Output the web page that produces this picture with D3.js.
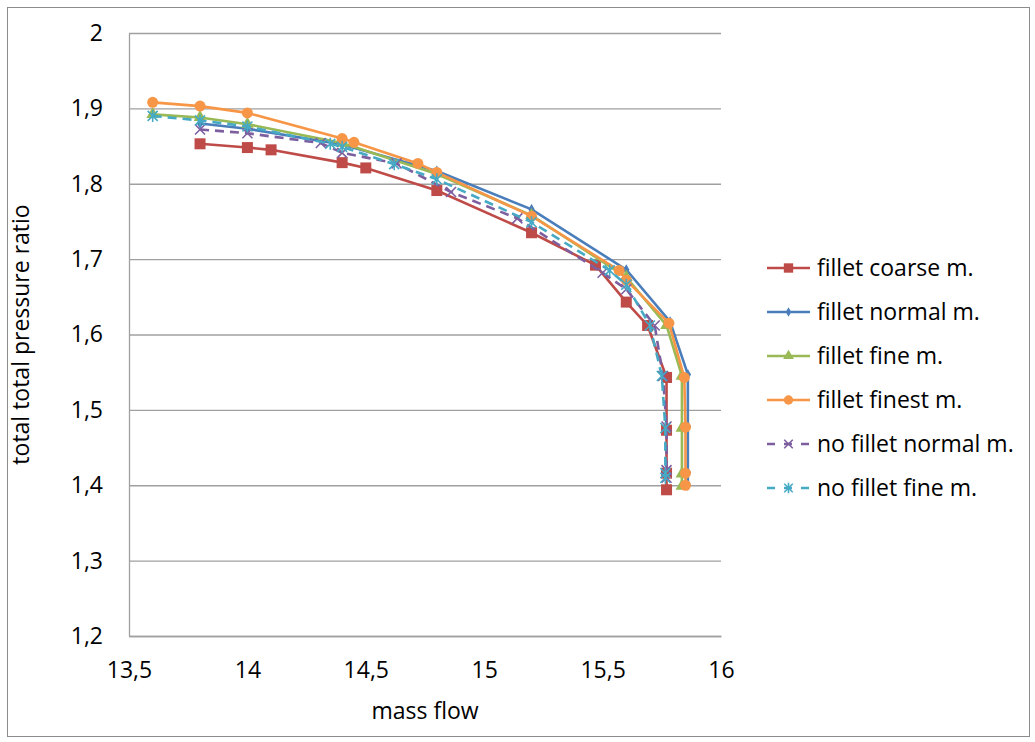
<!DOCTYPE html>
<html>
<head>
<meta charset="utf-8">
<script src="https://cdn.jsdelivr.net/npm/d3@7/dist/d3.min.js"></script>
<style>
  html, body { margin: 0; padding: 0; background: #fff; }
  svg { display: block; }
  text { font-family: "Open Sans", Lato, sans-serif; fill: #000; }
</style>
</head>
<body>
<svg id="chart" width="1035" height="742"></svg>
<script>
// Compressor map: total-to-total pressure ratio over mass flow, per mesh variant
const seriesNames = ["fillet coarse m.", "fillet normal m.", "fillet fine m.",
                     "fillet finest m.", "no fillet normal m.", "no fillet fine m."];

const coarseFlow  = [13.8, 14.0, 14.1, 14.4, 14.5, 14.8, 15.2, 15.47, 15.6, 15.69, 15.77, 15.77, 15.77, 15.77];
const coarsePR    = [1.853, 1.848, 1.845, 1.828, 1.821, 1.791, 1.735, 1.692, 1.643, 1.612, 1.543, 1.473, 1.416, 1.394];

const normalFlow  = [13.8, 14.0, 14.4, 14.8, 15.2, 15.6, 15.785, 15.86, 15.86, 15.86, 15.86];
const normalPR    = [1.880, 1.873, 1.852, 1.817, 1.766, 1.686, 1.617, 1.547, 1.478, 1.417, 1.400];

const fineFlow    = [13.6, 13.8, 14.0, 14.4, 14.8, 15.2, 15.6, 15.77, 15.835, 15.835, 15.835, 15.835];
const finePR      = [1.892, 1.888, 1.879, 1.854, 1.813, 1.758, 1.676, 1.612, 1.545, 1.476, 1.415, 1.399];

const finestFlow  = [13.6, 13.8, 14.0, 14.4, 14.45, 14.72, 14.8, 15.2, 15.57, 15.6, 15.78, 15.845, 15.85, 15.85, 15.85];
const finestPR    = [1.908, 1.903, 1.894, 1.860, 1.855, 1.827, 1.815, 1.757, 1.685, 1.672, 1.615, 1.543, 1.477, 1.416, 1.400];

const noFilNormalFlow = [13.8, 14.0, 14.31, 14.4, 14.63, 14.86, 15.14, 15.5, 15.6, 15.72, 15.755, 15.77, 15.77, 15.77];
const noFilNormalPR   = [1.872, 1.867, 1.854, 1.841, 1.827, 1.789, 1.754, 1.682, 1.660, 1.612, 1.545, 1.478, 1.420, 1.410];

const noFilFineFlow = [13.6, 13.8, 14.0, 14.35, 14.4, 14.62, 14.8, 15.2, 15.53, 15.6, 15.7, 15.75, 15.765, 15.765, 15.765];
const noFilFinePR   = [1.890, 1.884, 1.876, 1.853, 1.849, 1.826, 1.806, 1.749, 1.685, 1.666, 1.612, 1.545, 1.476, 1.416, 1.410];

const xTicks = [13.5, 14, 14.5, 15, 15.5, 16];
const yTicks = [1.2, 1.3, 1.4, 1.5, 1.6, 1.7, 1.8, 1.9, 2.0];

const flows = [coarseFlow, normalFlow, fineFlow, finestFlow, noFilNormalFlow, noFilFineFlow];
const ratios = [coarsePR, normalPR, finePR, finestPR, noFilNormalPR, noFilFinePR];

const colors = ["#BE4B48", "#4A7EBB", "#98B954", "#F79646", "#7D5FA0", "#46AAC5"];
const dashes = [null, null, null, null, "9,6", "9,6"];
const markers = ["square", "diamond", "triangle", "circle", "cross", "star"];

const series = seriesNames.map((name, i) => ({
  name, color: colors[i], dash: dashes[i], marker: markers[i],
  points: flows[i].map((f, j) => ({ x: f, y: ratios[i][j] }))
}));

const svg = d3.select("#chart");
const plot = { left: 129, right: 721, top: 33, bottom: 636 };
const fontSize = 23;

// Outer chart frame
svg.append("rect")
  .attr("x", 7.5).attr("y", 7.5).attr("width", 1022).attr("height", 729)
  .attr("fill", "#fff").attr("stroke", "#8c8c8c").attr("stroke-width", 1);

const x = d3.scaleLinear().domain([13.5, 16]).range([plot.left, plot.right]);
const y = d3.scaleLinear().domain([1.2, 2.0]).range([plot.bottom, plot.top]);
const fmt = v => d3.format("")(+v.toFixed(1)).replace(".", ",");

// Horizontal gridlines
svg.append("g")
  .attr("transform", `translate(${plot.left},0)`)
  .call(d3.axisRight(y).tickValues(yTicks).tickSize(plot.right - plot.left).tickFormat(""))
  .call(g => g.select(".domain").remove())
  .call(g => g.selectAll("line").attr("stroke", "#a0a0a0").attr("stroke-width", 1.3));

// Y axis
svg.append("g")
  .attr("transform", `translate(${plot.left},0)`)
  .call(d3.axisLeft(y).tickValues(yTicks).tickSize(0).tickPadding(26).tickFormat(fmt))
  .call(g => g.select(".domain").attr("stroke", "#a0a0a0").attr("stroke-width", 1.3))
  .call(g => g.selectAll("text").attr("font-size", fontSize).attr("font-family", null));

// X axis
svg.append("g")
  .attr("transform", `translate(0,${plot.bottom})`)
  .call(d3.axisBottom(x).tickValues(xTicks).tickSize(0).tickPadding(26).tickFormat(fmt))
  .call(g => g.select(".domain").attr("stroke", "#a0a0a0").attr("stroke-width", 1.3))
  .call(g => g.selectAll("text").attr("font-size", fontSize).attr("font-family", null));

// Axis titles
svg.append("text")
  .attr("x", (plot.left + plot.right) / 2).attr("y", 719)
  .attr("text-anchor", "middle").attr("font-size", fontSize)
  .text("mass flow");
svg.append("text")
  .attr("transform", `translate(29,${(plot.top + plot.bottom) / 2}) rotate(-90)`)
  .attr("text-anchor", "middle").attr("font-size", fontSize)
  .text("total total pressure ratio");

// Marker shapes
function drawMarker(g, type, color, size) {
  const s = size;
  switch (type) {
    case "square":
      g.append("rect").attr("x", -s / 2).attr("y", -s / 2).attr("width", s).attr("height", s)
        .attr("fill", color); break;
    case "diamond":
      g.append("path").attr("d", d3.symbol(d3.symbolDiamond, s * s * 0.55)())
        .attr("fill", color); break;
    case "triangle":
      g.append("path").attr("d", d3.symbol(d3.symbolTriangle, s * s * 0.7)())
        .attr("fill", color); break;
    case "circle":
      g.append("circle").attr("r", s / 2).attr("fill", color); break;
    case "cross":
      g.append("path").attr("d", `M${-s/2},${-s/2}L${s/2},${s/2}M${-s/2},${s/2}L${s/2},${-s/2}`)
        .attr("stroke", color).attr("stroke-width", 1.6).attr("fill", "none"); break;
    case "star":
      g.append("path").attr("d",
        `M${-s/2},${-s/2}L${s/2},${s/2}M${-s/2},${s/2}L${s/2},${-s/2}M0,${-s/2 - 1}L0,${s/2 + 1}`)
        .attr("stroke", color).attr("stroke-width", 1.6).attr("fill", "none"); break;
  }
}
const markerSize = { square: 11, diamond: 8, triangle: 10, circle: 11, cross: 10, star: 10 };

const line = d3.line().x(d => x(d.x)).y(d => y(d.y));

// Series lines and markers
series.forEach(s => {
  const g = svg.append("g");
  g.append("path").datum(s.points)
    .attr("d", line).attr("fill", "none")
    .attr("stroke", s.color).attr("stroke-width", 2.6)
    .attr("stroke-dasharray", s.dash);
  g.selectAll(".pt").data(s.points).enter().append("g")
    .attr("transform", d => `translate(${x(d.x)},${y(d.y)})`)
    .each(function () { drawMarker(d3.select(this), s.marker, s.color, markerSize[s.marker]); });
});

// Legend
const legend = svg.append("g");
series.forEach((s, i) => {
  const row = legend.append("g").attr("transform", `translate(767,${268 + i * 44})`);
  row.append("line").attr("x1", 0).attr("x2", 43).attr("y1", 0).attr("y2", 0)
    .attr("stroke", s.color).attr("stroke-width", 2.6)
    .attr("stroke-dasharray", s.dash ? "8,9" : null);
  const m = row.append("g").attr("transform", "translate(21.5,0)");
  drawMarker(m, s.marker, s.color, markerSize[s.marker] * 0.85);
  row.append("text").attr("x", 50).attr("y", 0).attr("dy", "0.35em")
    .attr("font-size", fontSize).text(s.name);
});
</script>
</body>
</html>
